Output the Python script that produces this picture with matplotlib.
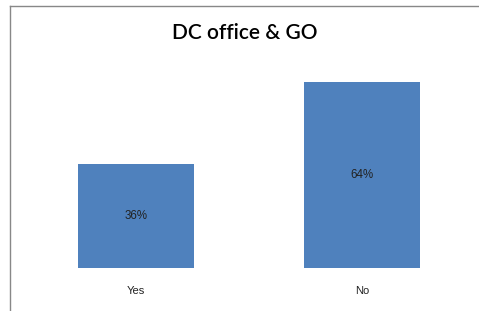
import matplotlib
matplotlib.use("Agg")
import matplotlib.pyplot as plt
from matplotlib.lines import Line2D

categories = ["Yes", "No"]
values = [36, 64]
labels = ["36%", "64%"]
title = "DC office & GO"

W, H = 479, 311
fig = plt.figure(figsize=(W/100, H/100), dpi=100)
fig.patch.set_facecolor("white")

# axes: x from 23 to 475 px, y baseline at 268 px, top at 65 px (ylim 70)
ax = fig.add_axes([23/W, (H-268)/H, (475-23)/W, (268-65)/H])
x = list(range(len(categories)))
ax.bar(x, values, width=0.513, color="#4F81BD", edgecolor="none")
ax.set_xlim(-0.5, 1.5)
ax.set_ylim(0, 70)
for xi, v, lab in zip(x, values, labels):
    ax.text(xi, v/2, lab, ha="center", va="center", fontsize=8.3,
            color="#222222", family="Liberation Sans")
ax.set_xticks(x)
ax.set_xticklabels(categories, fontsize=8, color="#222222", family="Liberation Sans")
ax.tick_params(axis="x", length=0, pad=13)
ax.set_yticks([])
for s in ax.spines.values():
    s.set_visible(False)

fig.text(245/W, 1-33/H, title, ha="center", va="center", fontsize=15,
         family="Lato", fontweight="semibold", color="black")

# chart border (left and top)
fig.add_artist(Line2D([9.5/W, 9.5/W], [0, 1-5.5/H], transform=fig.transFigure,
                      color="#888888", lw=1))
fig.add_artist(Line2D([9.5/W, 1], [1-5.5/H, 1-5.5/H], transform=fig.transFigure,
                      color="#888888", lw=1))

fig.savefig("out.png", dpi=100)
